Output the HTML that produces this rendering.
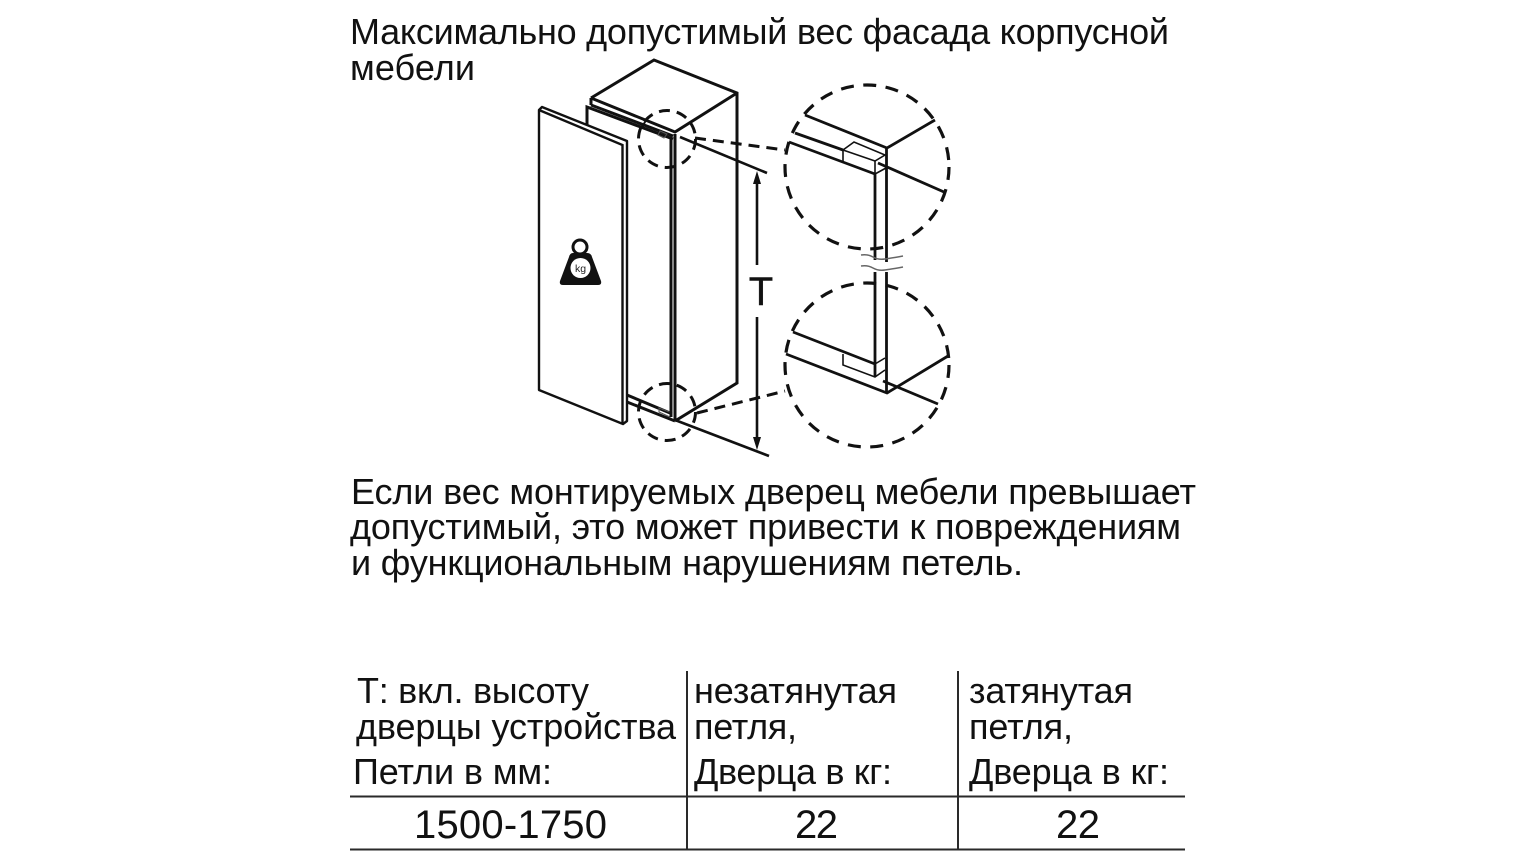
<!DOCTYPE html>
<html>
<head>
<meta charset="utf-8">
<style>
html,body{margin:0;padding:0;background:#fff;width:1536px;height:864px;overflow:hidden}
svg{display:block}
text{font-family:"Liberation Sans",sans-serif;fill:#111}
.t{font-size:36px}
.n{font-size:40px}
</style>
</head>
<body>
<svg width="1536" height="864" viewBox="0 0 1536 864" xmlns="http://www.w3.org/2000/svg">
<rect width="1536" height="864" fill="#fff"/>

<!-- paragraph text -->
<text class="t" x="350" y="44" textLength="819" lengthAdjust="spacing">Максимально допустимый вес фасада корпусной</text>
<text class="t" x="350" y="80" textLength="125" lengthAdjust="spacing">мебели</text>
<text class="t" x="351" y="504" textLength="845" lengthAdjust="spacing">Если вес монтируемых дверец мебели превышает</text>
<text class="t" x="350" y="539" textLength="831" lengthAdjust="spacing">допустимый, это может привести к повреждениям</text>
<text class="t" x="351" y="575" textLength="672" lengthAdjust="spacing">и функциональным нарушениям петель.</text>

<!-- table text -->
<text class="t" x="357" y="703" textLength="232" lengthAdjust="spacing">Т: вкл. высоту</text>
<text class="t" x="356" y="739" textLength="320" lengthAdjust="spacing">дверцы устройства</text>
<text class="t" x="353" y="784" textLength="199" lengthAdjust="spacing">Петли в мм:</text>
<text class="n" x="414" y="838" textLength="193" lengthAdjust="spacing">1500-1750</text>
<text class="t" x="694" y="703" textLength="203" lengthAdjust="spacing">незатянутая</text>
<text class="t" x="694" y="739" textLength="103" lengthAdjust="spacing">петля,</text>
<text class="t" x="694" y="784" textLength="198" lengthAdjust="spacing">Дверца в кг:</text>
<text class="n" x="795" y="838" textLength="43" lengthAdjust="spacing">22</text>
<text class="t" x="969" y="703" textLength="164" lengthAdjust="spacing">затянутая</text>
<text class="t" x="969" y="739" textLength="104" lengthAdjust="spacing">петля,</text>
<text class="t" x="969" y="784" textLength="200" lengthAdjust="spacing">Дверца в кг:</text>
<text class="n" x="1056" y="838" textLength="44" lengthAdjust="spacing">22</text>

<!-- table lines -->
<g stroke="#2a2a2a" stroke-width="2" fill="none">
<path d="M350 796.5H1185M350 849.5H1185"/>
<path d="M687 671V850M958 671V850"/>
</g>

<!-- cabinet -->
<g stroke="#111" fill="none" stroke-linejoin="miter">
<g stroke-width="3">
<path d="M591 98L654 60L737 93V383L675 421"/>
<path d="M591 98L675 132L737 93"/>
<path d="M591 98V105"/>
<path d="M587 125V107L673 139"/>
<path d="M591 105L673 136"/>
<path d="M627 395L670 413"/>
<path d="M627 402L675 421"/>
</g>
<path d="M644 127L642 127L645 122" stroke-width="2"/>
<path d="M660 131L667 134L664 138L658 135Z" stroke-width="1" stroke="#555"/>
<path d="M659 408L672 413L670 417L659 412Z" stroke-width="1" stroke="#555"/>
<path d="M671 138V417" stroke-width="3"/>
<path d="M675 134V421" stroke-width="3"/>
</g>

<!-- door panel -->
<g stroke="#111" stroke-width="2.4" fill="#fff" stroke-linejoin="round">
<path d="M539 110L542 107L627 141V421L623 424L539 390Z"/>
</g>
<g stroke="#111" fill="none">
<path d="M539 110L622.5 145V423" stroke-width="2.4"/>
</g>

<!-- weight icon -->
<circle cx="580" cy="247" r="7" fill="#fff" stroke="#111" stroke-width="3"/>
<path d="M573 253H587Q591 253 592 257L601 281Q602 285 598 285H563Q559 285 560 281L569 257Q570 253 573 253Z" fill="#111"/>
<circle cx="580.5" cy="268" r="10" fill="#fff"/>
<text x="580.5" y="272" font-size="10.5" text-anchor="middle" style="fill:#222">kg</text>

<!-- small dashed circles and connectors -->
<g stroke="#111" fill="none" stroke-width="3" stroke-dasharray="11 7">
<circle cx="667" cy="139" r="28.5"/>
<circle cx="667" cy="412" r="28.5"/>
<path d="M695 138L785 150"/>
<path d="M697 413L785 391"/>
</g>

<!-- extension lines + dimension -->
<g stroke="#111" fill="none" stroke-width="2.6">
<path d="M680 137L767 173"/>
<path d="M675 420L769 456"/>
<path d="M757 180V265"/>
<path d="M757 317V442"/>
</g>
<path d="M757 171L761 184H753Z" fill="#111"/>
<path d="M757 450L761 437H753Z" fill="#111"/>
<text x="761" y="305" font-size="40" text-anchor="middle" style="fill:#111;stroke:#111;stroke-width:.4">T</text>

<!-- big dashed circles -->
<g stroke="#111" fill="none" stroke-width="3.2" stroke-dasharray="13 9.5">
<circle cx="867" cy="167" r="82"/>
<circle cx="867" cy="365" r="82"/>
</g>

<!-- top detail -->
<g stroke="#111" fill="none" stroke-width="2.8">
<path d="M805 115L887 148L935 120"/>
<path d="M795 133L843 150"/>
<path d="M789 142L875 174"/>
<path d="M878 163L944 192"/>
<path d="M875 174V260"/>
<path d="M886.5 148V262"/>
</g>
<g stroke="#111" fill="none" stroke-width="1.6">
<path d="M843 150V162M843 150L854 142L885 155L875 161L843 150"/>
<path d="M875 161V174L886 168"/>
</g>

<!-- bottom detail -->
<g stroke="#111" fill="none" stroke-width="2.8">
<path d="M793 332L875 364"/>
<path d="M786 354L887 393L948 356"/>
<path d="M883 381L938 404"/>
<path d="M875 272V377"/>
<path d="M886.5 272V393"/>
</g>
<g stroke="#111" fill="none" stroke-width="1.6">
<path d="M843 354V365L875 377L885 370"/>
<path d="M875 364L885 358"/>
</g>

<!-- break waves -->
<g stroke="#666" fill="none" stroke-width="1.5">
<path d="M861 255Q868 254 873 257T885 259T903 256"/>
<path d="M861 266Q868 265 873 268T885 270T903 267"/>
</g>
</svg>
</body>
</html>
